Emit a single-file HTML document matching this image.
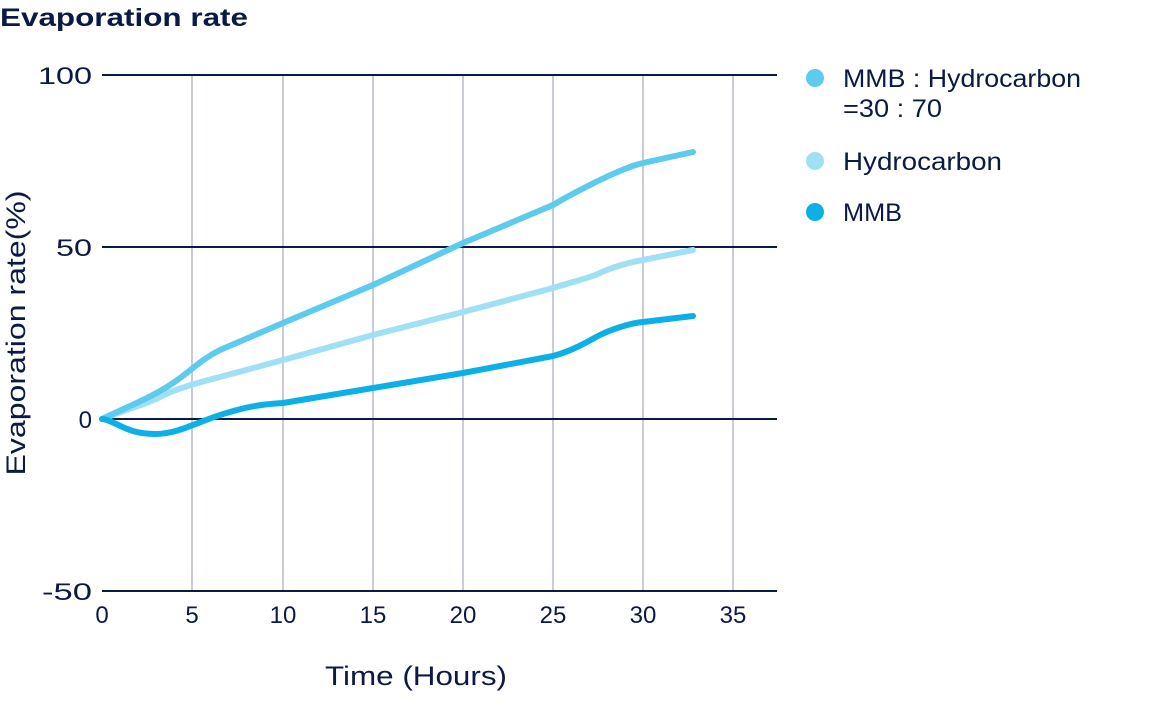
<!DOCTYPE html>
<html><head><meta charset="utf-8"><style>
body{margin:0;background:#fff;width:1160px;height:700px;overflow:hidden}
text{font-family:"Liberation Sans",sans-serif;fill:#0b1a45}
</style></head><body>
<svg width="1160" height="700" viewBox="0 0 1160 700">
<text x="0" y="26" font-size="25" font-weight="bold" textLength="248" lengthAdjust="spacingAndGlyphs">Evaporation rate</text>
<g stroke="#c8cbd8" stroke-width="2">
<line x1="192" y1="75" x2="192" y2="591"/><line x1="283" y1="75" x2="283" y2="591"/>
<line x1="373" y1="75" x2="373" y2="591"/><line x1="463" y1="75" x2="463" y2="591"/>
<line x1="553" y1="75" x2="553" y2="591"/><line x1="643" y1="75" x2="643" y2="591"/>
<line x1="733" y1="75" x2="733" y2="591"/>
</g>
<g stroke="#0b1a45" stroke-width="2">
<line x1="102" y1="75" x2="777" y2="75"/><line x1="102" y1="247" x2="777" y2="247"/>
<line x1="102" y1="419" x2="777" y2="419"/><line x1="102" y1="591" x2="777" y2="591"/>
</g>
<g font-size="24" text-anchor="end">
<text x="92" y="84" textLength="54" lengthAdjust="spacingAndGlyphs">100</text><text x="92" y="256" textLength="36" lengthAdjust="spacingAndGlyphs">50</text><text x="92" y="428">0</text><text x="92" y="600" textLength="50" lengthAdjust="spacingAndGlyphs">-50</text>
</g>
<g font-size="24" text-anchor="middle">
<text x="102" y="623">0</text><text x="192" y="623">5</text><text x="283" y="623">10</text><text x="373" y="623">15</text>
<text x="463" y="623">20</text><text x="553" y="623">25</text><text x="643" y="623">30</text><text x="733" y="623">35</text>
</g>
<text x="416" y="685" font-size="27" text-anchor="middle" textLength="182" lengthAdjust="spacingAndGlyphs">Time (Hours)</text>
<text transform="translate(25,333) rotate(-90)" font-size="27" text-anchor="middle" textLength="285" lengthAdjust="spacingAndGlyphs">Evaporation rate(%)</text>
<g fill="none" stroke-width="6" stroke-linecap="round" stroke-linejoin="round">
<path stroke="#a0e0f5" d="M102,419 C130,408 145,405 160,397 S200,382 220,377 L283,360 L373,335 L463,312 L553,288 C575,281 590,278 600,273 S630,262 643,260 L693,250"/>
<path stroke="#5ccbee" d="M102,419 C125,408 150,398 170,385 S200,360 220,350 L283,323 L373,285 L463,243 L553,205 C575,192 590,185 600,180 S630,166 643,163 L693,152"/>
<path stroke="#0db0e6" d="M102,419 C115,420 125,434 155,434 C180,434 200,420 230,412 C250,406 265,404 283,403 L373,388 L463,373 L553,356 C575,350 590,340 600,335 S630,323 643,322 L693,316"/>
</g>
<circle cx="815" cy="78" r="9" fill="#5ccbee"/>
<circle cx="815" cy="161" r="9" fill="#a0e0f5"/>
<circle cx="815" cy="212" r="9" fill="#0db0e6"/>
<g font-size="25">
<text x="843" y="87" textLength="238" lengthAdjust="spacingAndGlyphs">MMB : Hydrocarbon</text>
<text x="843" y="117" textLength="99" lengthAdjust="spacingAndGlyphs">=30 : 70</text>
<text x="843" y="170" textLength="159" lengthAdjust="spacingAndGlyphs">Hydrocarbon</text>
<text x="843" y="221" textLength="59" lengthAdjust="spacingAndGlyphs">MMB</text>
</g>
</svg>
</body></html>
